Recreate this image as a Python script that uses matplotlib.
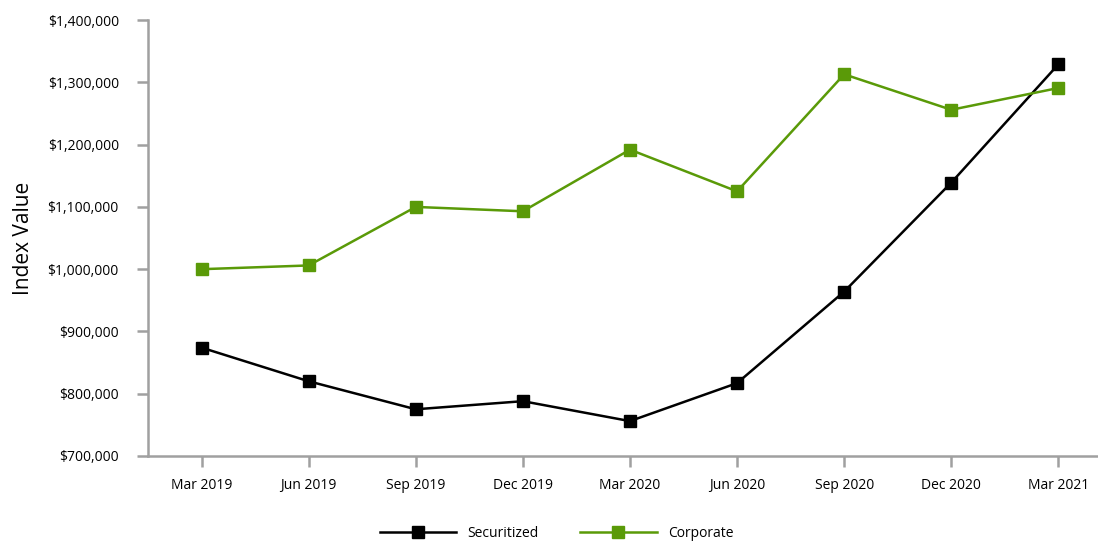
import matplotlib.pyplot as plt
from matplotlib.ticker import FuncFormatter

quarters = ['Mar 2019', 'Jun 2019', 'Sep 2019', 'Dec 2019', 'Mar 2020',
            'Jun 2020', 'Sep 2020', 'Dec 2020', 'Mar 2021']
securitized = [874000, 820000, 775000, 788000, 756000, 817000, 964000, 1139000, 1329000]
corporate = [1000000, 1006000, 1100000, 1093000, 1192000, 1125000, 1313000, 1256000, 1291000]

plt.rcParams['font.family'] = ['Open Sans', 'DejaVu Sans']

fig = plt.figure(figsize=(10.98, 5.44), dpi=100)
ax = fig.add_axes([0.1348, 0.1618, 0.8652, 0.8012])

x = range(len(quarters))
ax.plot(x, securitized, color='black', lw=1.8, marker='s', ms=8, label='Securitized')
ax.plot(x, corporate, color='#5A9A08', lw=1.8, marker='s', ms=8, label='Corporate')

ax.set_xlim(-0.5, 8.37)
ax.set_ylim(700000, 1400000)
ax.set_yticks(range(700000, 1400001, 100000))
ax.yaxis.set_major_formatter(FuncFormatter(lambda v, p: f'${v:,.0f}'))
ax.set_xticks(list(x))
ax.set_xticklabels(quarters)

for side in ['top', 'right']:
    ax.spines[side].set_visible(False)
for side in ['left', 'bottom']:
    ax.spines[side].set_color('#A0A0A0')
    ax.spines[side].set_linewidth(1.8)
ax.tick_params(axis='both', colors='#A0A0A0', labelcolor='black', labelsize=10,
               length=8, width=1.8)
ax.tick_params(axis='x', pad=8)
ax.tick_params(axis='y', pad=13)

ax.set_ylabel('Index Value', fontsize=15, labelpad=10)

ax.legend(loc='center', bbox_to_anchor=(0.43, -0.178), ncol=2, frameon=False,
          fontsize=10, handlelength=5.5, columnspacing=3)

fig.savefig('out.png', dpi=100)
